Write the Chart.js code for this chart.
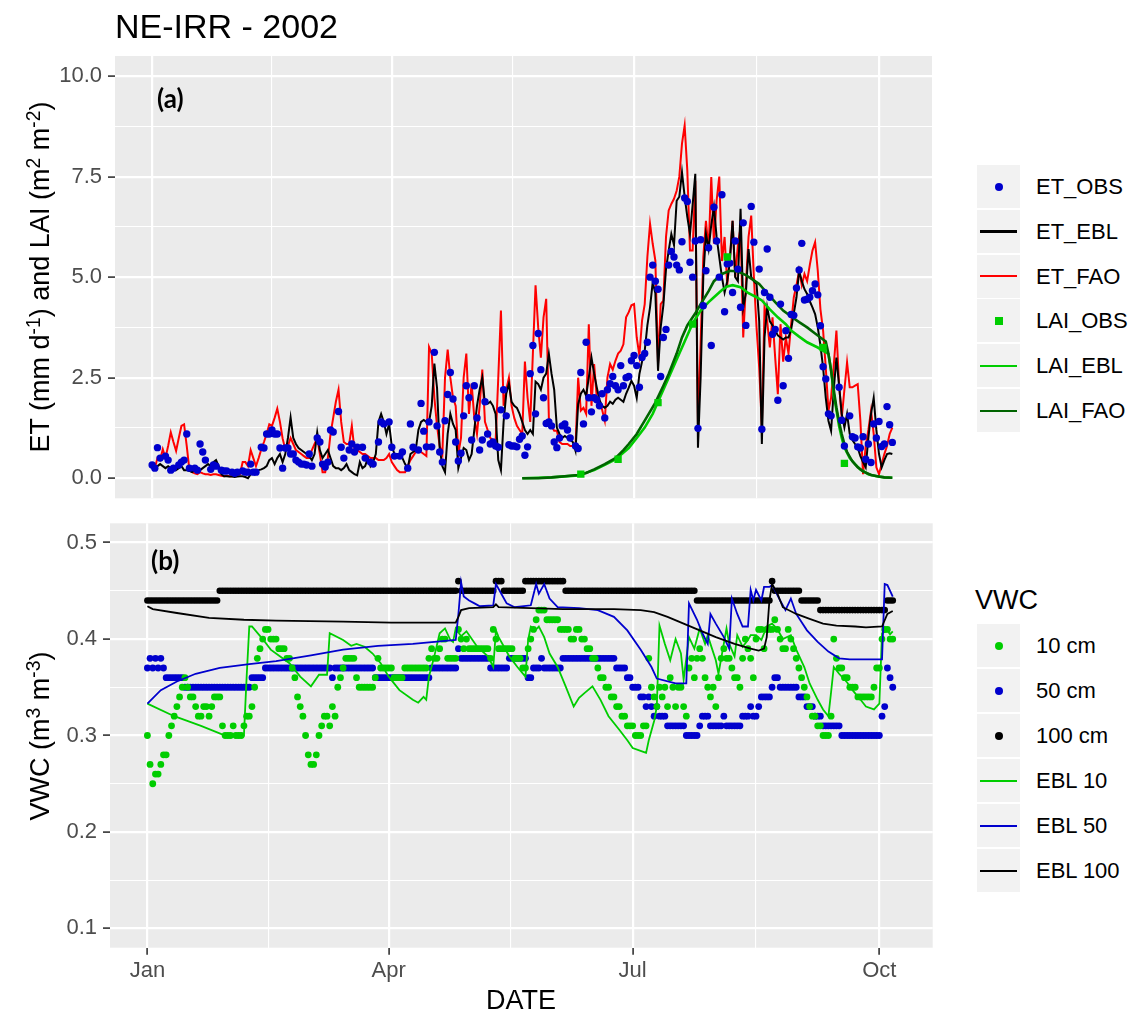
<!DOCTYPE html>
<html>
<head>
<meta charset="utf-8">
<title>NE-IRR - 2002</title>
<script src="https://cdn.jsdelivr.net/npm/chart.js@4.4.1/dist/chart.umd.min.js"></script>
<style>
  body { margin: 0; width: 1134px; height: 1015px; position: relative; overflow: hidden; background: #fff;
         font-family: "Liberation Sans", Arial, sans-serif; color: #000; }
  canvas { position: absolute; left: 0; }
  #etChart { top: 0; }
  #vwcChart { top: 510px; }
  .txt { position: absolute; white-space: nowrap; line-height: 1; }
  .plot-title { left: 115px; top: 9px; font-size: 34px; }
  .ylab { font-size: 27px; transform: translate(-50%, -50%) rotate(-90deg); }
  .ylab sup { font-size: 0.72em; vertical-align: 0.45em; line-height: 0; }
  .panel-tag { font-family: Lato, "Open Sans", sans-serif; font-weight: bold; font-size: 26px; }
  .xlab { font-size: 27px; transform: translateX(-50%); }
  .key { position: absolute; width: 43px; height: 43px; background: #F2F2F2; }
  .key i { position: absolute; display: block; }
  .lab { position: absolute; font-size: 22px; height: 43px; line-height: 43px; white-space: nowrap; }
  .leg-title { font-size: 27px; }
</style>
</head>
<body>
<canvas id="etChart" width="940" height="505"></canvas>
<canvas id="vwcChart" width="940" height="505"></canvas>

<div class="txt plot-title">NE-IRR - 2002</div>
<div class="txt ylab" style="left:40px; top:277px;">ET (mm d<sup>-1</sup>) and LAI (m<sup>2</sup> m<sup>-2</sup>)</div>
<div class="txt ylab" style="left:40px; top:736px;">VWC (m<sup>3</sup> m<sup>-3</sup>)</div>
<div class="txt xlab" style="left:521px; top:987px;">DATE</div>
<div class="txt panel-tag" style="left:157px; top:85px;">(a)</div>
<div class="txt panel-tag" style="left:151px; top:547px;">(b)</div>
<div class="txt leg-title" style="left:975px; top:587px;">VWC</div>
<div id="legends"></div>

<script>
// ---- daily series, day 0 = 1 Jan 2002 ----
const dayIndex = Array.from({ length: 279 }, (_, i) => i);

// FAO-56 crop ET (mm/d)
const etFao = [
  .3,.25,.5,.45,.72,.5,.8,1.14,.9,.68,
  1.0,1.3,1.34,.8,.2,.15,.12,.1,.15,.12,
  .1,.1,.08,.1,.1,.08,.06,.05,.06,.05,
  .05,.06,.08,.1,.4,.4,.3,.7,.5,.3,
  .5,.72,.9,1.1,1.34,1.3,1.5,1.73,1.4,.99,
  .72,.8,1.0,.85,.7,.65,.6,.55,.5,.5,
  .7,.85,1.0,.6,.15,.15,.5,1.1,1.5,1.9,
  2.2,1.4,.9,.85,.85,1.3,.7,.7,.65,.6,
  .6,.55,.5,.5,.5,.45,.45,.45,.5,.6,
  .4,.3,.2,.15,.15,.15,.3,.45,.55,.65,
  .7,.65,.6,.55,3.26,3.1,2.0,1.3,.8,.6,
  2.5,3.2,2.5,2.0,1.8,.6,1.0,2.5,3.1,1.6,
  2.35,1.5,1.1,1.8,2.7,1.4,1.2,1.0,.95,.9,
  2.5,4.17,1.8,2.2,2.5,1.8,1.5,1.3,1.2,1.1,
  2.9,2.0,1.4,3.1,4.8,3.75,3.0,4.0,4.46,1.5,
  1.3,1.18,1.18,.9,.85,.85,.85,.8,.8,.76,
  2.5,1.68,1.75,1.6,3.83,1.8,2.84,2.0,1.93,1.7,
  1.43,2.5,2.84,2.7,2.92,3.1,3.17,3.33,4.0,4.13,
  4.3,4.33,3.5,3.05,3.92,4.33,5.5,6.33,5.83,5.41,
  2.84,4.33,4.42,6.0,6.66,6.82,6.95,7.15,7.5,8.32,
  8.77,7.65,5.66,5.66,7.4,1.35,3.34,5.5,6.4,5.66,
  7.49,5.83,6.9,7.5,5.4,6.0,4.8,5.5,6.4,5.0,
  5.8,6.24,3.5,4.8,6.0,6.53,5.0,3.75,2.75,1.26,
  4.25,3.9,3.25,4.0,3.0,2.09,3.83,2.9,3.5,3.1,
  3.83,4.5,4.8,5.16,4.8,5.08,4.9,5.3,5.66,5.87,
  5.16,4.2,3.67,2.75,1.68,2.0,2.8,3.67,2.34,1.5,
  2.2,2.88,2.26,2.26,2.3,2.34,1.43,.1,.8,1.2,
  1.68,1.1,.27,.1,.35,.6,.8,1.1,1.26
];

// EBL model ET (mm/d)
const etEbl = [
  .3,.25,.3,.35,.3,.25,.3,.25,.3,.2,
  .25,.3,.2,.2,.18,.15,.2,.25,.2,.25,
  .3,.35,.3,.4,.45,.3,.1,.05,.05,.04,
  .04,.03,.04,.05,.05,.03,0,.1,.15,.18,
  .2,.22,.25,.3,.45,.5,.35,.5,.6,.4,
  .6,1.0,1.51,1.0,.85,.75,.7,.65,.6,.55,
  .45,.6,1.14,.7,.5,.6,.7,.5,.3,.25,
  .25,.2,.25,.35,.2,.15,.1,.07,.4,.25,
  .3,.5,.3,.4,.6,1.4,1.6,1.4,1.1,1.35,
  .8,.6,.6,.55,.5,.35,.25,.6,.65,.7,
  1.2,1.4,1.45,1.4,1.4,1.8,2.85,2.25,.75,.3,
  .15,1.1,1.6,1.35,1.2,.25,.5,.75,.7,.45,
  .6,1.2,1.8,2.2,2.5,1.85,1.85,1.9,1.8,1.6,
  .45,.2,1.4,2.1,2.35,1.9,1.8,1.75,1.6,1.4,
  1.2,1.1,1.2,1.1,2.4,2.34,2.2,2.5,2.6,3.09,
  2.6,2.2,1.26,1.1,1.0,1.05,1.0,.95,.9,.68,
  1.84,2.1,2.2,2.05,2.5,3.0,2.6,2.26,1.95,1.8,
  1.75,1.8,1.9,1.85,1.95,2.0,1.95,1.9,2.1,2.25,
  2.42,2.3,2.0,2.59,2.9,3.17,3.8,4.25,4.87,4.6,
  2.67,3.75,4.3,5.2,5.66,6.07,5.8,6.9,7.0,7.61,
  7.0,6.5,6.07,6.8,7.57,.76,2.5,5.0,6.07,5.7,
  6.3,6.74,6.0,5.5,5.0,4.62,4.9,5.4,6.4,5.0,
  4.9,6.7,4.25,4.6,5.7,5.0,4.9,4.83,3.9,.85,
  3.5,4.25,3.9,3.8,3.67,3.55,3.5,3.45,3.5,3.5,
  3.7,4.1,4.5,5.16,4.9,4.7,4.58,4.4,4.25,4.08,
  3.75,3.3,2.75,2.0,1.43,1.18,2.2,3.0,2.3,1.6,
  1.26,1.6,1.1,.95,.85,.76,.55,.4,.27,1.0,
  1.6,2.0,1.2,.6,.27,.45,.6,.62,.6
];

// measured ET (mm/d)
const etObsDay = [
  0,1,2,3,5,6,7,8,10,11,
  12,13,14,16,17,18,19,20,22,23,
  24,26,27,28,30,31,32,34,35,36,
  37,38,39,41,42,43,44,45,46,47,
  48,49,50,51,52,53,54,55,56,57,
  58,59,60,62,63,64,65,66,67,68,
  70,71,72,74,75,76,77,79,80,82,
  83,85,86,87,89,90,91,93,94,96,
  97,98,100,101,102,103,104,105,106,107,
  108,109,110,111,112,113,114,115,116,117,
  118,119,120,121,122,123,124,125,126,127,
  128,129,130,131,132,133,134,135,136,137,
  138,139,140,141,142,143,144,145,146,147,
  148,149,150,151,152,153,154,155,156,157,
  159,160,161,162,163,164,165,166,167,168,
  169,170,171,172,173,174,175,176,177,178,
  179,180,181,182,183,184,185,186,187,188,
  189,190,191,192,193,194,195,196,197,198,
  199,200,201,202,203,204,205,206,207,208,
  209,210,211,212,213,214,215,216,217,218,
  219,220,221,222,223,225,226,228,229,230,231,
  232,233,234,235,236,237,238,239,240,241,
  242,243,244,245,246,247,248,249,250,251,
  252,253,254,255,258,259,260,262,263,264,
  265,266,267,268,269,270,271,272,273,274,
  275,276,277,278
];
const etObs = [
  .33,.25,.76,.5,.55,.45,.2,.25,.33,.4,
  .45,1.1,.25,.25,.2,.85,.65,.45,.22,.33,
  .3,.2,.18,.18,.15,.12,.15,.18,.15,.15,
  .35,.15,.15,.77,.75,1.1,1.1,1.2,1.1,1.1,
  .75,.25,.75,.75,.6,.6,.45,.4,.35,.35,
  .33,.6,.3,1.0,.9,.35,.28,.4,1.2,1.15,
  1.66,.77,.5,.7,.85,.65,.77,.77,.5,.4,
  .35,.9,1.4,1.35,1.4,.77,.55,.55,.65,.25,
  1.35,.77,.7,1.86,1.17,.78,1.4,.78,3.13,1.3,
  .65,.4,1.43,2.08,2.63,1.97,.9,.43,.62,1.55,
  2.3,2.0,.95,2.3,1.5,.7,.95,1.9,1.1,.85,
  .9,.8,.77,1.7,2.2,1.55,.83,.8,.8,.78,
  .97,1.05,.57,.78,2.6,3.3,1.6,3.6,2.7,2.0,
  1.36,1.4,1.3,.9,.76,1.0,1.3,1.35,1.2,1.0,
  .8,.74,2.63,1.35,3.38,2.0,1.65,2.0,1.95,1.8,
  2.1,1.5,2.2,2.35,2.53,2.3,2.2,2.8,2.3,2.5,
  2.53,2.92,3.05,2.8,2.26,3.0,3.1,3.38,5.0,5.3,
  4.9,4.7,2.53,3.5,3.7,5.3,5.64,5.5,5.3,5.18,
  5.88,6.97,6.88,5.37,5.0,5.9,1.24,5.93,4.29,5.16,
  5.73,3.3,6.74,5.9,5.0,7.05,4.14,5.33,5.35,4.62,
  5.9,5.2,4.25,6.35,3.8,6.76,5.87,5.2,1.22,4.62,5.7,
  4.5,3.58,3.7,1.94,4.33,2.3,3.67,2.98,4.07,4.05,
  4.73,5.18,5.84,4.43,4.45,4.5,4.66,4.83,4.56,3.79,
  2.77,2.47,1.6,1.55,2.26,1.44,.8,1.55,1.03,1.0,
  .78,.75,1.03,.47,.85,.39,1.35,1.0,1.41,.79,
  .85,1.78,1.33,.89
];

// leaf area index (m2/m2)
const laiFaoDay = [139,145,150,155,160,163,166,170,174,177,179,182,185,189,192,194,197,199,201,204,206,209,211,214,217,220,223,226,228,231,234,237,240,243,246,249,251,253,254,255,256,257,258,259,260,261,263,265,267,270,273,275,278];
const laiFao = [0,0,.02,.05,.08,.13,.22,.35,.5,.7,.85,1.1,1.43,1.88,2.3,2.59,3.1,3.5,3.8,4.1,4.33,4.65,4.9,5.08,5.16,5.14,5.05,4.92,4.83,4.6,4.38,4.17,4.02,3.88,3.75,3.6,3.5,3.4,3.1,2.67,2.2,1.76,1.4,1.1,.85,.65,.42,.27,.17,.08,.04,.02,.01];
const laiEblDay = [139,150,160,166,170,174,179,182,185,188,190,192,194,197,200,203,206,209,211,214,216,218,221,224,227,229,232,235,238,240,243,246,250,254,255,256,257,258,259,260,262,264,266,269,272,275,278];
const laiEbl = [0,.02,.07,.2,.33,.47,.75,1.0,1.26,1.6,1.9,2.2,2.5,2.95,3.4,3.85,4.17,4.38,4.5,4.68,4.77,4.8,4.75,4.6,4.5,4.42,4.2,4.0,3.83,3.67,3.52,3.38,3.25,3.09,2.7,2.1,1.7,1.3,1.0,.76,.5,.35,.22,.1,.05,.02,.01];
const laiObsDay = [161,175,190,203,216,252,260];
const laiObs = [.1,.47,1.88,3.83,5.5,3.25,.37];

// measured soil water content (m3/m3), daily
const vwc10 = [
  .30,.27,.25,.26,.26,.27,.28,.28,.30,.31,
  .32,.33,.34,.35,.36,.35,.34,.34,.33,.32,
  .32,.33,.33,.32,.33,.34,.34,.34,.31,.30,
  .30,.30,.31,.30,.30,.30,.31,.32,.32,.33,
  .35,.38,.39,.40,.41,.41,.40,.40,.40,.39,
  .39,.39,.38,.38,.37,.36,.34,.33,.32,.30,
  .28,.27,.27,.28,.30,.31,.32,.32,.31,.33,
  .32,.35,.36,.37,.38,.38,.38,.38,.36,.35,
  .35,.35,.35,.35,.35,.36,.38,.37,.37,.37,
  .37,.37,.36,.36,.36,.36,.37,.37,.37,.37,
  .37,.37,.37,.37,.37,.38,.39,.38,.38,.39,
  .40,.40,.38,.38,.38,.38,.41,.40,.39,.40,
  .39,.39,.39,.39,.39,.39,.39,.39,.38,.41,
  .40,.39,.39,.39,.39,.39,.39,.38,.38,.38,
  .37,.37,.39,.40,.41,.42,.43,.43,.43,.42,
  .42,.42,.42,.42,.41,.41,.41,.41,.40,.40,
  .41,.41,.40,.40,.39,.39,.38,.38,.37,.36,
  .36,.35,.35,.34,.34,.33,.33,.32,.32,.31,
  .31,.31,.30,.30,.30,.31,.31,.38,.35,.34,
  .33,.35,.34,.35,.33,.36,.35,.33,.35,.35,
  .33,.32,.37,.38,.36,.38,.39,.38,.36,.35,
  .34,.35,.33,.36,.38,.39,.38,.38,.37,.36,
  .36,.35,.38,.40,.39,.38,.36,.40,.41,.41,
  .39,.41,.41,.41,.42,.41,.40,.39,.39,.41,
  .40,.39,.38,.37,.36,.35,.34,.33,.32,.32,
  .31,.31,.30,.30,.30,.32,.40,.38,.37,.37,
  .36,.36,.35,.35,.35,.34,.34,.34,.34,.34,
  .34,.35,.37,.37,.40,.41,.41,.40,.40
];
const vwc50 = [
  .37,.38,.37,.38,.37,.38,.37,.36,.36,.36,
  .36,.36,.36,.36,.35,.35,.35,.35,.35,.35,
  .35,.35,.35,.35,.35,.35,.35,.35,.35,.35,
  .35,.35,.35,.35,.35,.35,.35,.35,.35,.36,
  .36,.36,.36,.36,.37,.37,.37,.37,.37,.37,
  .37,.37,.37,.37,.37,.37,.37,.37,.37,.37,
  .37,.37,.37,.37,.37,.37,.37,.37,.37,.36,
  .37,.37,.37,.37,.37,.37,.37,.37,.37,.37,
  .37,.37,.37,.37,.37,.36,.36,.36,.36,.36,
  .36,.36,.36,.36,.36,.36,.36,.36,.36,.36,
  .36,.36,.36,.36,.36,.36,.37,.37,.37,.37,
  .37,.37,.37,.37,.37,.37,.39,.38,.38,.38,
  .38,.38,.38,.38,.38,.38,.38,.38,.37,.37,
  .37,.37,.37,.37,.37,.38,.38,.38,.38,.38,
  .38,.38,.36,.36,.37,.37,.37,.38,.37,.37,
  .37,.37,.37,.37,.37,.38,.38,.38,.38,.38,
  .38,.38,.38,.38,.38,.38,.38,.38,.38,.38,
  .38,.38,.38,.38,.38,.37,.37,.37,.37,.36,
  .36,.35,.35,.35,.34,.34,.33,.34,.33,.32,
  .33,.32,.32,.32,.31,.31,.31,.31,.31,.31,
  .31,.30,.30,.30,.30,.30,.31,.32,.32,.32,
  .31,.31,.31,.31,.31,.32,.31,.31,.31,.31,
  .31,.31,.32,.32,.32,.33,.32,.32,.33,.34,
  .34,.34,.34,.35,.36,.36,.35,.35,.35,.35,
  .35,.35,.35,.34,.34,.34,.33,.33,.33,.32,
  .32,.32,.31,.31,.31,.31,.31,.31,.31,.30,
  .30,.30,.30,.30,.30,.30,.30,.30,.30,.30,
  .30,.30,.30,.30,.32,.33,.37,.36,.35
];
const vwc100 = [
  .44,.44,.44,.44,.44,.44,.44,.44,.44,.44,
  .44,.44,.44,.44,.44,.44,.44,.44,.44,.44,
  .44,.44,.44,.44,.44,.44,.44,.45,.45,.45,
  .45,.45,.45,.45,.45,.45,.45,.45,.45,.45,
  .45,.45,.45,.45,.45,.45,.45,.45,.45,.45,
  .45,.45,.45,.45,.45,.45,.45,.45,.45,.45,
  .45,.45,.45,.45,.45,.45,.45,.45,.45,.45,
  .45,.45,.45,.45,.45,.45,.45,.45,.45,.45,
  .45,.45,.45,.45,.45,.45,.45,.45,.45,.45,
  .45,.45,.45,.45,.45,.45,.45,.45,.45,.45,
  .45,.45,.45,.45,.45,.45,.45,.45,.45,.45,
  .45,.45,.45,.45,.45,.45,.46,.45,.45,.45,
  .45,.45,.45,.45,.45,.45,.45,.45,.45,.45,
  .46,.46,.46,.45,.45,.45,.45,.45,.45,.45,
  .45,.46,.46,.46,.46,.46,.46,.46,.46,.46,
  .46,.46,.46,.46,.46,.46,.45,.45,.45,.45,
  .45,.45,.45,.45,.45,.45,.45,.45,.45,.45,
  .45,.45,.45,.45,.45,.45,.45,.45,.45,.45,
  .45,.45,.45,.45,.45,.45,.45,.45,.45,.45,
  .45,.45,.45,.45,.45,.45,.45,.45,.45,.45,
  .45,.45,.45,.45,.45,.44,.44,.44,.44,.44,
  .44,.44,.44,.44,.44,.44,.44,.44,.44,.44,
  .44,.44,.44,.44,.44,.44,.44,.44,.44,.44,
  .44,.44,.44,.46,.45,.45,.45,.45,.45,.45,
  .45,.45,.45,.45,.44,.44,.44,.44,.44,.44,
  .44,.43,.43,.43,.43,.43,.43,.43,.43,.43,
  .43,.43,.43,.43,.43,.43,.43,.43,.43,.43,
  .43,.43,.43,.43,.43,.43,.44,.44,.44
];

// EBL simulated soil water content (m3/m3)
const ebl10Day = [
  0,10,20,29,36,37,38,39,43,46,
  49,53,57,61,64,67,68,73,76,78,
  81,84,87,90,94,99,101,103,104,105,
  107,109,111,113,114,115,117,119,121,123,
  127,129,130,131,133,135,138,141,142,143,
  145,146,148,150,153,156,159,161,163,166,
  169,172,176,179,181,185,186,187,189,190,
  191,193,195,197,199,200,202,204,206,208,
  209,210,212,213,216,217,219,220,222,224,
  225,227,229,231,233,235,237,240,242,245,
  247,250,252,254,255,256,258,261,263,266,
  268,271,273,274,276,277,278
];
const ebl10 = [
  .333,.32,.31,.30,.30,.36,.413,.413,.40,.389,
  .383,.375,.361,.351,.363,.363,.406,.399,.393,.395,
  .392,.385,.375,.361,.347,.337,.334,.34,.337,.361,
  .382,.406,.411,.399,.397,.411,.403,.408,.40,.392,
  .382,.371,.409,.402,.392,.382,.371,.361,.399,.413,
  .41,.413,.402,.385,.371,.351,.33,.339,.344,.351,
  .337,.32,.306,.295,.287,.283,.282,.295,.315,.33,
  .414,.395,.378,.40,.385,.358,.402,.39,.411,.395,
  .404,.395,.378,.364,.411,.395,.382,.404,.392,.399,
  .404,.404,.399,.413,.416,.41,.40,.404,.389,.371,
  .354,.337,.327,.32,.345,.371,.364,.355,.347,.337,
  .33,.327,.333,.406,.409,.405,.408
];
const ebl50Day = [
  0,5,11,18,27,38,48,61,73,86,
  99,115,116,117,118,120,122,124,129,130,
  132,134,137,143,145,146,148,150,153,161,
  168,174,179,184,188,190,197,201,202,205,
  207,209,210,212,215,217,218,220,222,224,
  225,226,227,229,230,232,233,234,236,238,
  240,242,246,250,254,258,262,268,274,275,
  276,278
];
const ebl50 = [
  .333,.347,.356,.364,.37,.374,.377,.383,.389,.393,
  .395,.399,.426,.459,.444,.44,.437,.434,.435,.457,
  .447,.437,.433,.435,.457,.447,.457,.442,.433,.432,
  .43,.423,.409,.389,.371,.359,.354,.354,.437,.42,
  .406,.395,.426,.416,.402,.39,.442,.426,.413,.413,
  .451,.44,.451,.44,.454,.454,.456,.451,.44,.43,
  .442,.426,.409,.397,.387,.38,.379,.379,.379,.457,
  .456,.444
];
const ebl100Day = [
  0,2,11,23,36,48,73,91,115,116,
  117,120,129,130,131,143,155,174,184,189,
  194,200,206,212,219,225,228,230,231,232,
  233,235,237,242,247,252,257,264,268,274,
  276,278
];
const ebl100 = [
  .434,.431,.427,.422,.42,.419,.418,.417,.417,.423,
  .43,.432,.433,.436,.433,.432,.431,.431,.43,.428,
  .423,.416,.409,.402,.395,.39,.388,.39,.402,.44,
  .457,.447,.433,.426,.421,.416,.414,.413,.412,.413,
  .426,.429
];

// month breaks (day of year)
const monthDays = [0, 90, 181, 273];
const monthNames = ['Jan', 'Apr', 'Jul', 'Oct'];
const monthMinor = [45, 135.5, 227];

const X_MIN = -13.95, X_MAX = 292.9;
const TICK_FONT = { family: '"Liberation Sans", Arial, sans-serif', size: 22 };

const xy = (xs, ys) => xs.map((x, i) => ({ x: x, y: ys[i] }));

// grey ggplot-style panel
const panelBg = {
  id: 'panelBg',
  beforeDraw(chart) {
    const { ctx, chartArea: a } = chart;
    ctx.save();
    ctx.fillStyle = '#EBEBEB';
    ctx.fillRect(a.left, a.top, a.right - a.left, a.bottom - a.top);
    ctx.restore();
  }
};

function gridFor(majors) {
  return {
    color: '#FFFFFF',
    lineWidth: c => (c.tick && majors.includes(c.tick.value)) ? 2.2 : 1.1,
    tickColor: c => (c.tick && majors.includes(c.tick.value)) ? '#333333' : 'rgba(0,0,0,0)',
    tickLength: 7,
    tickWidth: 1.6
  };
}

// the panel box is fixed by layout padding, so drop the label overhang padding
function noOverhang(s) {
  s.paddingTop = 0; s.paddingBottom = 0; s.paddingLeft = 0; s.paddingRight = 0;
}

function yScale(min, max, majors, minors, width, digits) {
  return {
    type: 'linear', min: min, max: max, bounds: 'data',
    afterBuildTicks: s => { s.ticks = majors.concat(minors).map(v => ({ value: v })); },
    afterFit: s => { s.width = width; noOverhang(s); },
    border: { display: false },
    grid: gridFor(majors),
    ticks: {
      autoSkip: false, padding: 6, color: '#4D4D4D', font: TICK_FONT,
      callback: v => majors.includes(v) ? v.toFixed(digits) : ''
    }
  };
}

function xScale(showLabels, height) {
  const g = gridFor(monthDays);
  if (!showLabels) g.drawTicks = false;
  return {
    type: 'linear', min: X_MIN, max: X_MAX, bounds: 'data',
    afterBuildTicks: s => { s.ticks = monthDays.concat(monthMinor).map(v => ({ value: v })); },
    afterFit: s => { s.height = height; noOverhang(s); },
    border: { display: false },
    grid: g,
    ticks: {
      display: showLabels, autoSkip: false, maxRotation: 0, padding: 3,
      color: '#4D4D4D', font: TICK_FONT,
      callback: v => { const k = monthDays.indexOf(v); return k < 0 ? '' : monthNames[k]; }
    }
  };
}

const lineSet = (label, data, color, width) => ({
  label: label, data: data, borderColor: color, borderWidth: width,
  pointRadius: 0, fill: false, tension: 0
});
const pointSet = (label, data, color, r, style) => ({
  label: label, data: data, showLine: false, pointStyle: style || 'circle',
  pointRadius: r, pointBackgroundColor: color, pointBorderWidth: 0, borderColor: color
});

const baseOptions = (padding, scales) => ({
  responsive: false, animation: false, devicePixelRatio: 1,
  layout: { padding: padding },
  plugins: { legend: { display: false }, tooltip: { enabled: false } },
  scales: scales
});

// (a) ET and LAI; first dataset is drawn on top
new Chart(document.getElementById('etChart'), {
  type: 'line',
  data: {
    datasets: [
      pointSet('LAI_OBS', xy(laiObsDay, laiObs), '#00CD00', 5.2, 'rect'),
      pointSet('ET_OBS', xy(etObsDay, etObs), '#0000CD', 3.7),
      lineSet('LAI_FAO', xy(laiFaoDay, laiFao), '#006400', 2.6),
      lineSet('LAI_EBL', xy(laiEblDay, laiEbl), '#00CD00', 2.6),
      lineSet('ET_EBL', xy(dayIndex, etEbl), '#000000', 2),
      lineSet('ET_FAO', xy(dayIndex, etFao), '#FF0000', 2)
    ]
  },
  options: baseOptions({ left: 0, top: 56, right: 8, bottom: 6.7 }, {
    x: xScale(false, 0),
    y: yScale(-0.5, 10.5, [0, 2.5, 5, 7.5, 10], [1.25, 3.75, 6.25, 8.75], 115, 1)
  }),
  plugins: [panelBg]
});

// (b) soil water content
new Chart(document.getElementById('vwcChart'), {
  type: 'line',
  data: {
    datasets: [
      lineSet('EBL 100', xy(ebl100Day, ebl100), '#000000', 1.8),
      lineSet('EBL 50', xy(ebl50Day, ebl50), '#0000CD', 1.8),
      lineSet('EBL 10', xy(ebl10Day, ebl10), '#00CD00', 1.8),
      pointSet('100 cm', xy(dayIndex, vwc100), '#000000', 3.3),
      pointSet('10 cm', xy(dayIndex, vwc10), '#00CD00', 3.4),
      pointSet('50 cm', xy(dayIndex, vwc50), '#0000CD', 3.4)
    ]
  },
  options: baseOptions({ left: 0, top: 13.3, right: 7.3, bottom: 7.3 }, {
    x: xScale(true, 60),
    y: yScale(0.08, 0.52, [0.1, 0.2, 0.3, 0.4, 0.5], [0.15, 0.25, 0.35, 0.45], 110, 1)
  }),
  plugins: [panelBg]
});

// legends
const etKeys = [
  { label: 'ET_OBS', kind: 'dot', color: '#0000CD' },
  { label: 'ET_EBL', kind: 'line', color: '#000000' },
  { label: 'ET_FAO', kind: 'line', color: '#FF0000' },
  { label: 'LAI_OBS', kind: 'square', color: '#00CD00' },
  { label: 'LAI_EBL', kind: 'line', color: '#00CD00' },
  { label: 'LAI_FAO', kind: 'line', color: '#006400' }
];
const vwcKeys = [
  { label: '10 cm', kind: 'dot', color: '#00CD00' },
  { label: '50 cm', kind: 'dot', color: '#0000CD' },
  { label: '100 cm', kind: 'dot', color: '#000000' },
  { label: 'EBL 10', kind: 'line', color: '#00CD00' },
  { label: 'EBL 50', kind: 'line', color: '#0000CD' },
  { label: 'EBL 100', kind: 'line', color: '#000000' }
];

function buildLegend(keys, top, pitch) {
  const host = document.getElementById('legends');
  keys.forEach((k, i) => {
    const y = top + i * pitch;
    const box = document.createElement('div');
    box.className = 'key';
    box.style.left = '977px';
    box.style.top = y + 'px';
    const m = document.createElement('i');
    if (k.kind === 'line') {
      m.style.cssText = 'left:3px;top:20.5px;width:37px;height:2.4px;background:' + k.color;
    } else if (k.kind === 'square') {
      m.style.cssText = 'left:18px;top:18px;width:7.5px;height:7.5px;background:' + k.color;
    } else {
      m.style.cssText = 'left:17.5px;top:17.5px;width:8px;height:8px;border-radius:50%;background:' + k.color;
    }
    box.appendChild(m);
    host.appendChild(box);
    const lab = document.createElement('div');
    lab.className = 'lab';
    lab.style.left = '1036px';
    lab.style.top = y + 'px';
    lab.textContent = k.label;
    host.appendChild(lab);
  });
}
buildLegend(etKeys, 165, 44.8);
buildLegend(vwcKeys, 624, 45);
</script>
</body>
</html>
